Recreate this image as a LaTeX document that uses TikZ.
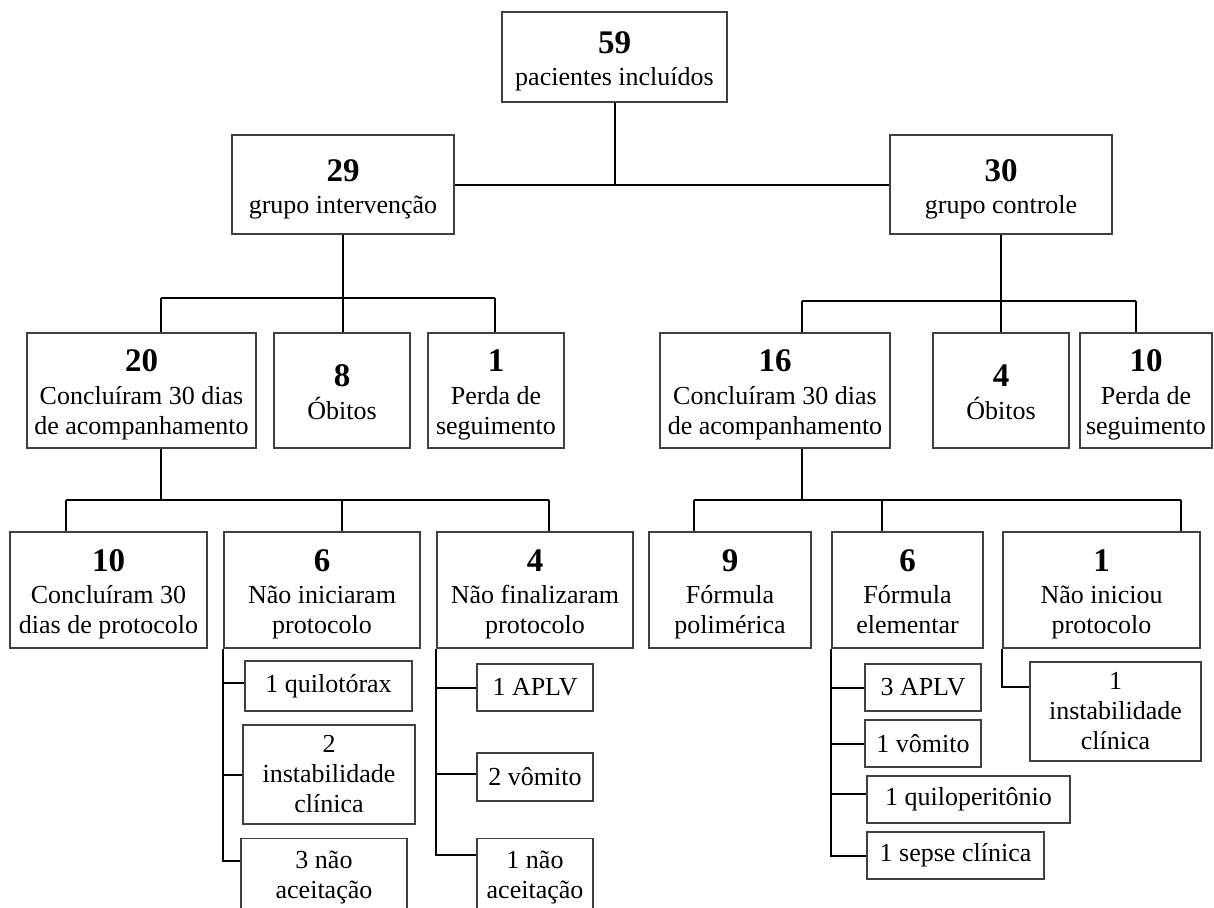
\documentclass[tikz,border=0pt]{standalone}
\usepackage{fontspec}
\setmainfont{Liberation Serif}
\newcommand{\qtd}[1]{{\rule{0pt}{34pt}\fontsize{33}{33}\selectfont\bfseries #1}}
\begin{document}
\begin{tikzpicture}[x=1pt,y=-1pt,font=\fontsize{26}{30}\selectfont,
caixa/.style={draw=black!75,line width=1.3pt,align=center,inner sep=0pt},
caixan/.style={caixa,execute at end node=\strut},
liga/.style={line width=2pt,black}]
\useasboundingbox (0,0) rectangle (1214,907);
\clip (0,0) rectangle (1214,907);
\node[caixan,minimum width=225,minimum height=90] (p59) at (614.5,57) {\qtd{59}\\[2pt]pacientes incluídos};
\node[caixan,minimum width=222,minimum height=99] (g29) at (343,184.5) {\qtd{29}\\[2pt]grupo intervenção};
\node[caixan,minimum width=222,minimum height=99] (g30) at (1001,184.5) {\qtd{30}\\[2pt]grupo controle};
\node[caixan,minimum width=229,minimum height=115] (c20) at (141.5,390.5) {\qtd{20}\\[3pt]Concluíram 30 dias\\de acompanhamento};
\node[caixan,minimum width=136,minimum height=115] (o8) at (342,390.5) {\qtd{8}\\[3pt]Óbitos};
\node[caixan,minimum width=136,minimum height=115] (l1) at (496,390.5) {\qtd{1}\\[3pt]Perda de\\seguimento};
\node[caixan,minimum width=230,minimum height=115] (c16) at (775,390.5) {\qtd{16}\\[3pt]Concluíram 30 dias\\de acompanhamento};
\node[caixan,minimum width=136,minimum height=115] (o4) at (1001,390.5) {\qtd{4}\\[3pt]Óbitos};
\node[caixan,minimum width=132,minimum height=115] (l10) at (1146,390.5) {\qtd{10}\\[3pt]Perda de\\seguimento};
\node[caixan,minimum width=197,minimum height=116] (k10) at (108.5,590) {\qtd{10}\\[2pt]Concluíram 30\\dias de protocolo};
\node[caixan,minimum width=196,minimum height=116] (n6) at (322,590) {\qtd{6}\\[2pt]Não iniciaram\\protocolo};
\node[caixan,minimum width=196,minimum height=116] (f4) at (535,590) {\qtd{4}\\[2pt]Não finalizaram\\protocolo};
\node[caixan,minimum width=162,minimum height=116] (p9) at (730,590) {\qtd{9}\\[2pt]Fórmula\\polimérica};
\node[caixan,minimum width=151,minimum height=116] (e6) at (907.5,590) {\qtd{6}\\[2pt]Fórmula\\elementar};
\node[caixan,minimum width=197,minimum height=116] (u1) at (1101.5,590) {\qtd{1}\\[2pt]Não iniciou\\protocolo};
\node[caixa,minimum width=167,minimum height=50] (s1) at (328.5,686) {1 quilotórax};
\node[caixa,minimum width=172,minimum height=99] (s2) at (329,774.5) {2\\instabilidade\\clínica};
\node[caixa,minimum width=166,minimum height=77] (s3) at (324,877) {3 não\\aceitação};
\node[caixa,minimum width=116,minimum height=47] (t1) at (535,687.5) {1 APLV};
\node[caixa,minimum width=116,minimum height=48] (t2) at (535,777) {2 vômito};
\node[caixa,minimum width=116,minimum height=77] (t3) at (535,877) {1 não\\aceitação};
\node[caixa,minimum width=116,minimum height=47] (r1) at (923,687.5) {3 APLV};
\node[caixa,minimum width=116,minimum height=47] (r2) at (923,743.5) {1 vômito};
\node[caixa,minimum width=203,minimum height=47] (r3) at (968.5,799.5) {1 quiloperitônio};
\node[caixa,minimum width=177,minimum height=47] (r4) at (955.5,855.5) {1 sepse clínica};
\node[caixa,minimum width=171,minimum height=99] (v1) at (1115.5,711.5) {1\\instabilidade\\clínica};
\coordinate (b29l) at (161,298);\coordinate (b29r) at (495,298);
\coordinate (b30l) at (802,301);\coordinate (b30r) at (1136,301);
\coordinate (b20l) at (66,500);\coordinate (b20r) at (549,500);
\coordinate (b16l) at (694,500);\coordinate (b16m) at (882,500);\coordinate (b16r) at (1181,500);
\draw[liga] (p59) -- (p59 |- g29.east);\draw[liga] (g29) -- (g30);
\draw[liga] (g29) -- (g29 |- b29l);\draw[liga] (b29l) -- (b29r);
\draw[liga] (b29l) -- (b29l |- c20.north);\draw[liga] (g29 |- b29l) -- (g29 |- o8.north);\draw[liga] (b29r) -- (b29r |- l1.north);
\draw[liga] (g30) -- (g30 |- b30l);\draw[liga] (b30l) -- (b30r);
\draw[liga] (b30l) -- (b30l |- c16.north);\draw[liga] (g30 |- b30l) -- (o4);\draw[liga] (b30r) -- (b30r |- l10.north);
\draw[liga] (b29l |- c20.south) -- (b29l |- b20l);\draw[liga] (b20l) -- (b20r);
\draw[liga] (b20l) -- (b20l |- k10.north);\draw[liga] (o8 |- b20l) -- (o8 |- n6.north);\draw[liga] (b20r) -- (b20r |- f4.north);
\draw[liga] (b30l |- c16.south) -- (b30l |- b16l);\draw[liga] (b16l) -- (b16r);
\draw[liga] (b16l) -- (b16l |- p9.north);\draw[liga] (b16m) -- (b16m |- e6.north);\draw[liga] (b16r) -- (b16r |- u1.north);
\draw[liga] (n6.south west) |- ([yshift=16pt]s3.west);\draw[liga] (n6.south west |- s1.west) ++(0,-3) -- ([yshift=3pt]s1.west);\draw[liga] (n6.south west |- s2.west) -- (s2.west);
\draw[liga] (f4.south west) |- ([yshift=22pt]t3.west);\draw[liga] (f4.south west |- t1.west) -- (t1.west);\draw[liga] (f4.south west |- t2.west) ++(0,-3) -- ([yshift=3pt]t2.west);
\draw[liga] (e6.south west) |- (r4.west);\draw[liga] (e6.south west |- r1.west) -- (r1.west);\draw[liga] (e6.south west |- r2.west) -- (r2.west);\draw[liga] (e6.south west |- r3.west) ++(0,-6) -- ([yshift=6pt]r3.west);
\draw[liga] (u1.south west) |- ([yshift=24.5pt]v1.west);
\end{tikzpicture}
\end{document}
